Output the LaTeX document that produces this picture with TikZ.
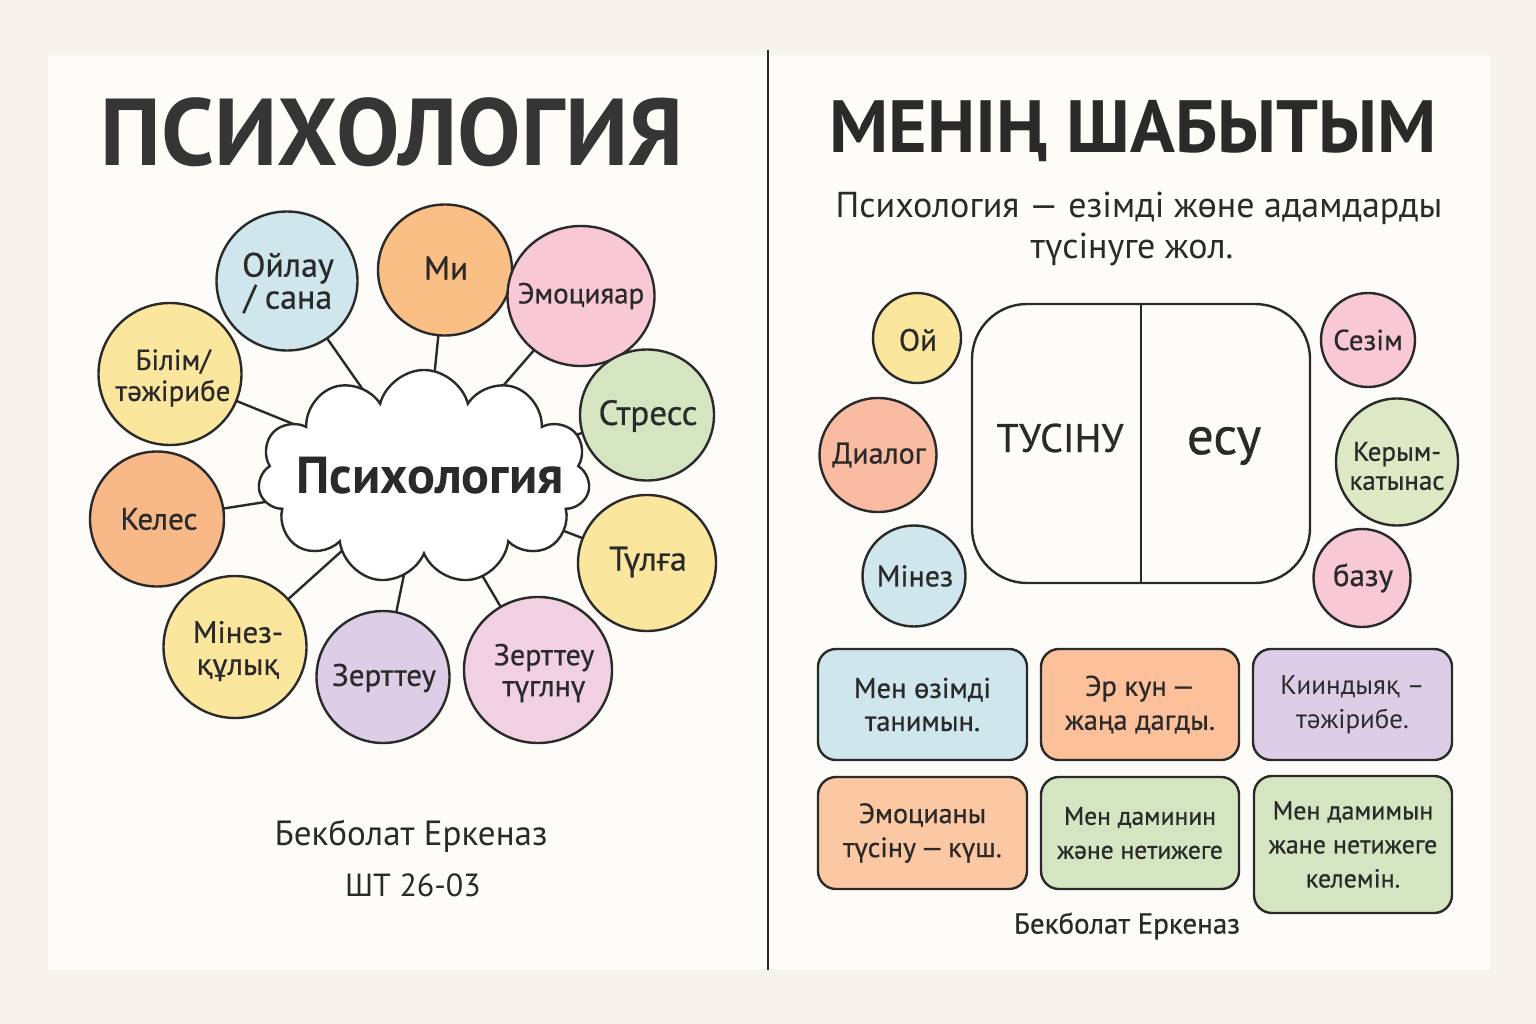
\documentclass[tikz,border=0pt]{standalone}
\usepackage{fontspec}
\setmainfont{PT Sans}
\newfontfamily\med{PT Sans}[FakeBold=0.6]
\usetikzlibrary{shapes.geometric,shapes.symbols}
\definecolor{ink}{HTML}{2A2A2A}
\definecolor{outerbg}{HTML}{F5F3EB}
\definecolor{cardbg}{HTML}{FDFCF8}
\definecolor{cblue}{HTML}{CFE6EC}
\definecolor{corange}{HTML}{F9BF85}
\definecolor{corangeb}{HTML}{F8B888}
\definecolor{cpink}{HTML}{F8C9D5}
\definecolor{cpinkl}{HTML}{F1D1E1}
\definecolor{cgreen}{HTML}{D6E5C1}
\definecolor{cgreenb}{HTML}{DDE8C4}
\definecolor{cyellow}{HTML}{FBE69E}
\definecolor{clav}{HTML}{DDCDE6}
\definecolor{csalmon}{HTML}{F9BBA2}
\definecolor{cboxor}{HTML}{FCC09A}
\definecolor{cboxpe}{HTML}{FCC8A3}
\newcommand\fsz[2]{\fontsize{#1}{#2}\selectfont}
\pgfdeclarelayer{back}
\pgfdeclarelayer{links}
\pgfsetlayers{back,links,main}
\tikzset{
  bub/.style={ellipse, draw=ink, line width=2.4pt, inner sep=0pt},
  sbox/.style={rectangle, rounded corners=18pt, draw=ink, line width=2.4pt, inner sep=0pt, align=center, text=ink},
  link/.style={draw=ink, line width=2.4pt},
  lbl/.style={text=ink, align=center, inner sep=0pt}
}
\begin{document}
\begin{tikzpicture}[x=1pt,y=-1pt]
\useasboundingbox (0,0) rectangle (1536,1024);
\begin{pgfonlayer}{back}
  \fill[outerbg] (0,0) rectangle (1536,1024);
  \fill[cardbg] (48,55) rectangle (1490,970);
  \draw[ink, line width=1.6pt] (768,50) -- (768,970);
\end{pgfonlayer}

% ---------- left panel ----------
\node[lbl, font=\bfseries\fsz{95}{98}, text=ink!95!white] (ltitle) at (392,132) {ПСИХОЛОГИЯ};

\node[cloud, cloud puffs=11, aspect=1.55, draw=ink, line width=2.4pt, fill=white,
      minimum width=332pt, minimum height=214pt, inner sep=0pt] (cl) at (424,477) {};
\node[lbl, font=\bfseries\fsz{52}{54}] (clt) at (430,476) {Психология};

\node[bub, fill=cblue,   minimum width=141pt, minimum height=139pt] (oi)  at (287,281) {};
\node[bub, fill=corange, minimum width=134pt, minimum height=131pt] (mi)  at (445,270) {};
\node[bub, fill=cpink,   minimum width=147pt, minimum height=140pt] (emo) at (581,296) {};
\node[bub, fill=cgreen,  minimum width=134pt, minimum height=131pt] (str) at (647,415) {};
\node[bub, fill=cyellow, minimum width=138pt, minimum height=136pt] (tul) at (647,563) {};
\node[bub, fill=cpinkl,  minimum width=148pt, minimum height=146pt] (zt)  at (538,670) {};
\node[bub, fill=clav,    minimum width=133pt, minimum height=132pt] (zer) at (383,677) {};
\node[bub, fill=cyellow, minimum width=143pt, minimum height=142pt] (min) at (235,647) {};
\node[bub, fill=corangeb,minimum width=134pt, minimum height=135pt] (kel) at (157,519) {};
\node[bub, fill=cyellow, minimum width=143pt, minimum height=142pt] (bil) at (170,374) {};

\node[lbl, font=\med\fsz{34}{32}] (oi-t)  at (288,283) {Ойлау\\/ сана};
\node[lbl, font=\med\fsz{33}{34}] (mi-t)  at (446,268) {Ми};
\node[lbl, font=\med\fsz{29}{28}] (emo-t) at (581,296) {Эмоцияар};
\node[lbl, font=\med\fsz{35}{32}] (str-t) at (648,416) {Стресс};
\node[lbl, font=\med\fsz{34}{32}] (tul-t) at (648,562) {Түлға};
\node[lbl, font=\med\fsz{30}{31}] (zt-t)  at (544,673) {Зерттеу\\түглнү};
\node[lbl, font=\med\fsz{31}{30}] (zer-t) at (384,678) {Зерттеу};
\node[lbl, font=\med\fsz{31}{32}] (min-t) at (238,651) {Мінез-\\құлық};
\node[lbl, font=\med\fsz{31}{31}] (kel-t) at (159,519) {Келес};
\node[lbl, font=\med\fsz{29}{31}] (bil-t) at (173,378) {Білім/\\тәжірибе};

\begin{pgfonlayer}{links}
  \foreach \n in {oi,mi,emo,str,tul,zt,zer,min,kel,bil}
    \draw[link] (cl.center) -- (\n.center);
\end{pgfonlayer}

\node[lbl, font=\fsz{35}{38}] (lname) at (411,836) {Бекболат Еркеназ};
\node[lbl, font=\fsz{32}{34}] (lgroup) at (413,885) {ШТ 26-03};

% ---------- right panel ----------
\node[lbl, font=\bfseries\fsz{74}{78}] (rtitle) at (1133,131) {МЕНІҢ ШАБЫТЫМ};
\node[lbl, font=\fsz{36}{38}] (sub1) at (1139,208) {Психология — езімді жөне адамдарды};
\node[lbl, font=\fsz{36}{38}] (sub2) at (1132,249) {түсінуге жол.};

\node[draw=ink, line width=2.4pt, rounded corners=55pt, minimum width=338pt, minimum height=279pt, inner sep=0pt] (big) at (1141,443.5) {};
\draw[ink, line width=2.4pt] (big.north) -- (big.south);
\node[lbl, font=\med\fsz{40}{44}] (tus) at (1060,438) {ТУСІНУ};
\node[lbl, font=\med\fsz{53}{56}] (esu) at (1224,446) {есу};

\node[bub, fill=cyellow, minimum width=88pt,  minimum height=90pt]  (oy)  at (917,338) {};
\node[bub, fill=csalmon, minimum width=117pt, minimum height=114pt] (dia) at (878,455) {};
\node[bub, fill=cblue,   minimum width=103pt, minimum height=101pt] (mnz) at (914,576) {};
\node[bub, fill=cpink,   minimum width=94pt,  minimum height=94pt]  (sez) at (1368,340) {};
\node[bub, fill=cgreenb, minimum width=122pt, minimum height=127pt] (ker) at (1397,462) {};
\node[bub, fill=cpink,   minimum width=97pt,  minimum height=98pt]  (baz) at (1362,578) {};

\node[lbl, font=\med\fsz{31}{30}] (oy-t)  at (918,340) {Ой};
\node[lbl, font=\med\fsz{30}{31}] (dia-t) at (879,455) {Диалог};
\node[lbl, font=\med\fsz{30}{30}] (mnz-t) at (915,576) {Мінез};
\node[lbl, font=\med\fsz{29}{29}] (sez-t) at (1368,340) {Сезім};
\node[lbl, font=\med\fsz{27}{29}] (ker-t) at (1397,466) {Керым-\\катынас};
\node[lbl, font=\med\fsz{31}{30}] (baz-t) at (1363,578) {базу};

\node[sbox, fill=cblue,   minimum width=209pt, minimum height=111pt, font=\med\fsz{28.5}{33}] (b1) at (922.5,704.5) {Мен өзімді\\танимын.};
\node[sbox, fill=cboxor,  minimum width=198pt, minimum height=111pt, font=\med\fsz{28.5}{34}] (b2) at (1140,704.5) {Эр кун\,—\\жаңа дагды.};
\node[sbox, fill=clav,    minimum width=199pt, minimum height=111pt, font=\fsz{27}{34}] (b3) at (1352.5,704.5) {Кииндыяқ –\\тәжірибе.};
\node[sbox, fill=cboxpe,  minimum width=209pt, minimum height=112pt, font=\med\fsz{28}{34}] (b4) at (922.5,833) {Эмоцианы\\түсіну\,—\,күш.};
\node[sbox, fill=cgreen,  minimum width=198pt, minimum height=112pt, font=\med\fsz{25.5}{34}] (b5) at (1140,833) {Мен даминин\\және нетижеге};
\node[sbox, fill=cgreen,  minimum width=198pt, minimum height=137pt, font=\med\fsz{26}{34}] (b6) at (1353,844.5) {Мен дамимын\\жане нетижеге\\келемін.};

\node[lbl, font=\med\fsz{29}{32}] (rname) at (1127,926) {Бекболат Еркеназ};
\end{tikzpicture}
\end{document}
